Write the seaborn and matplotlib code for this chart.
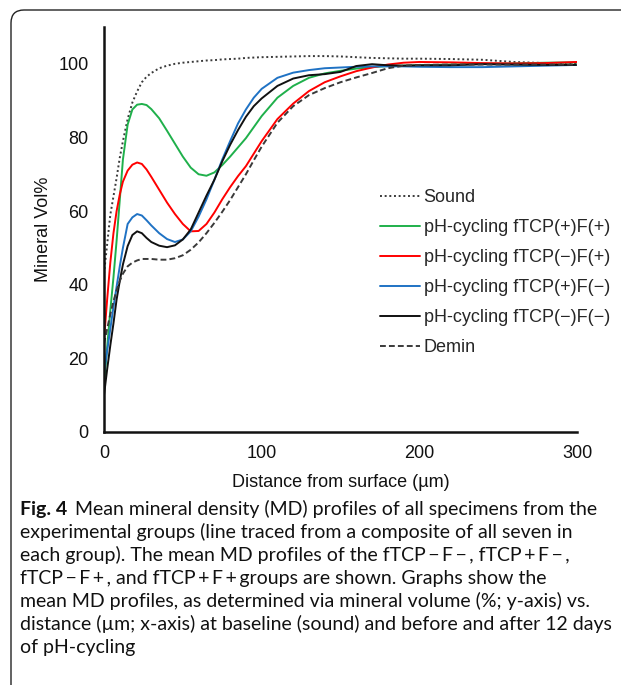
import numpy as np
import pandas as pd
import matplotlib
matplotlib.use("Agg")
import matplotlib.pyplot as plt
from matplotlib.patches import FancyBboxPatch
import seaborn as sns

# values (distance in um, mineral vol%)
dist = [0, 2, 4, 6, 8, 10, 12, 15, 18, 21, 24, 27, 30, 35, 40, 45, 50, 55, 60, 65,
        70, 75, 80, 85, 90, 95, 100, 110, 120, 130, 140, 150, 160, 170, 180, 190,
        200, 220, 240, 260, 280, 300]
sound = [43, 51, 59, 64, 69, 74.5, 79, 85, 89.5, 92.5, 95, 96.5, 97.5, 98.8, 99.5, 100,
         100.3, 100.5, 100.7, 100.9, 101, 101.2, 101.3, 101.4, 101.6, 101.7, 101.8,
         101.9, 102, 102.1, 102.1, 102, 101.8, 101.6, 101.5, 101.4, 101.4, 101.3,
         101.1, 100.5, 100.2, 100.1]
tcp_p_f_p = [13, 23, 33, 42, 52, 63, 74, 83.5, 87.6, 88.9, 89.1, 88.8, 87.7, 85.2, 81.8,
             78.3, 74.8, 71.8, 70.0, 69.6, 70.5, 72.5, 74.8, 77.3, 79.8, 82.8, 85.8,
             90.8, 94.0, 96.2, 97.4, 98.1, 98.7, 99.1, 99.4, 99.5, 99.6, 99.8, 100.0,
             100.1, 100.3, 100.4]
tcp_m_f_p = [25, 36, 46, 54, 60, 64.5, 68, 71, 72.6, 73.2, 72.8, 71.3, 69.3, 65.8, 62.3,
             59.2, 56.5, 54.5, 54.6, 56.5, 59.6, 63.2, 66.5, 69.5, 72.2, 75.6, 79, 85,
             89.2, 92.6, 95, 96.6, 98, 99, 99.8, 100.3, 100.5, 100.4, 100.2, 100.1,
             100.2, 100.5]
tcp_p_f_m = [16, 22, 28, 34, 39.5, 45, 50, 56.5, 58.3, 59.2, 58.8, 57.5, 56.1, 54, 52.4,
             51.6, 52.3, 54.5, 58.5, 63.2, 68.5, 74, 79, 83.8, 87.6, 90.8, 93.2, 96.2,
             97.6, 98.3, 98.8, 99, 99.2, 99.3, 99.3, 99.3, 99.2, 99.1, 99.1, 99.3, 99.5,
             99.7]
tcp_m_f_m = [10, 17, 23.5, 29.5, 36, 41, 45.5, 50.5, 53.5, 54.5, 54, 52.7, 51.6, 50.6,
             50.2, 50.7, 52.3, 55, 59.6, 64.2, 68.5, 73.5, 78, 82, 85.6, 88.5, 90.6, 94,
             96, 96.9, 97.2, 97.8, 99.4, 99.9, 99.6, 99.5, 99.6, 99.6, 99.9, 99.8, 99.7,
             99.7]
demin = [24, 28, 32, 35.5, 38.5, 41, 43, 45, 46, 46.6, 47, 47, 47, 46.8, 46.8, 47.2, 48,
         49.5, 51.5, 54, 56.8, 59.8, 63, 66.5, 70, 73.8, 77.5, 84, 88.5, 91.5, 93.4, 95,
         96.3, 97.5, 98.8, 99.5, 99.7, 99.8, 99.8, 99.8, 99.8, 99.8]

groups = ["Sound",
          "pH-cycling fTCP(+)F(+)",
          "pH-cycling fTCP(\u2212)F(+)",
          "pH-cycling fTCP(+)F(\u2212)",
          "pH-cycling fTCP(\u2212)F(\u2212)",
          "Demin"]
series = [sound, tcp_p_f_p, tcp_m_f_p, tcp_p_f_m, tcp_m_f_m, demin]

wide = pd.DataFrame(dict(zip(groups, series)), index=dist)
wide.index.name = "dist"
df = wide.reset_index().melt(id_vars="dist", var_name="group", value_name="vol")

palette = dict(zip(groups, ["#3a3a3a", "#1fb04b", "#ff0000", "#1f72c4", "#111111", "#3a3a3a"]))
dashes = dict(zip(groups, [(1, 1.4), "", "", "", "", (3, 1.6)]))

sns.set_theme(style="white")
plt.rcParams["font.family"] = ["Liberation Sans", "DejaVu Sans"]

fig = plt.figure(figsize=(6.21, 6.85), dpi=100)
ax = fig.add_axes([104 / 621, 1 - 432 / 685, (577 - 104) / 621, (432 - 27) / 685])

sns.lineplot(data=df, x="dist", y="vol", hue="group", style="group",
             palette=palette, dashes=dashes, hue_order=groups, style_order=groups,
             estimator=None, sort=False, linewidth=1.4, ax=ax)

ax.set_xlim(0, 300)
ax.set_ylim(0, 110)
ax.set_xticks([0, 100, 200, 300])
ax.set_yticks([0, 20, 40, 60, 80, 100])
ax.tick_params(length=0, labelsize=13, colors="#111111")
ax.tick_params(axis="y", pad=11)
ax.tick_params(axis="x", pad=9)
ax.set_xlabel("Distance from surface (\u00b5m)", fontsize=13, color="#111111", labelpad=9)
ax.set_ylabel("Mineral Vol%", fontsize=13, color="#111111", labelpad=5)
sns.despine(ax=ax)
for side in ["left", "bottom"]:
    ax.spines[side].set_color("#111111")
    ax.spines[side].set_linewidth(1.8)

handles, labels = ax.get_legend_handles_labels()
ax.legend(handles, labels, loc="upper left", bbox_to_anchor=(380 / 621, 1 - 189 / 685),
          bbox_transform=fig.transFigure, frameon=False, fontsize=13,
          handlelength=2.2, handletextpad=0.22, labelspacing=0.72, borderpad=0,
          borderaxespad=0)

# rounded frame around figure + caption
frame = FancyBboxPatch((0.11, -0.3), 7.0, 7.05, boxstyle="round,pad=0,rounding_size=0.13",
                       transform=fig.dpi_scale_trans, facecolor="none",
                       edgecolor="#222222", linewidth=1.0)
fig.patches.append(frame)

cap_font = ["Lato", "DejaVu Sans"]
cap_size = 14.0
cap_lines = [
    "experimental groups (line traced from a composite of all seven in",
    "each group). The mean MD profiles of the fTCP\u2009\u2212\u2009F\u2009\u2212\u2009, fTCP\u2009+\u2009F\u2009\u2212\u2009,",
    "fTCP\u2009\u2212\u2009F\u2009+\u2009, and fTCP\u2009+\u2009F\u2009+\u2009groups are shown. Graphs show the",
    "mean MD profiles, as determined via mineral volume (%; y-axis) vs.",
    "distance (\u00b5m; x-axis) at baseline (sound) and before and after 12 days",
    "of pH-cycling",
]
fig.text(20 / 621, 1 - 515 / 685, "Fig. 4", family=cap_font, fontsize=cap_size,
         fontweight="bold", va="baseline", ha="left", color="#111111")
fig.text(75 / 621, 1 - 515 / 685, "Mean mineral density (MD) profiles of all specimens from the",
         family=cap_font, fontsize=cap_size, va="baseline", ha="left", color="#111111")
for i, line in enumerate(cap_lines):
    fig.text(20 / 621, 1 - (538 + 23 * i) / 685, line, family=cap_font, fontsize=cap_size,
             va="baseline", ha="left", color="#111111")

fig.savefig("out.png", dpi=100)
